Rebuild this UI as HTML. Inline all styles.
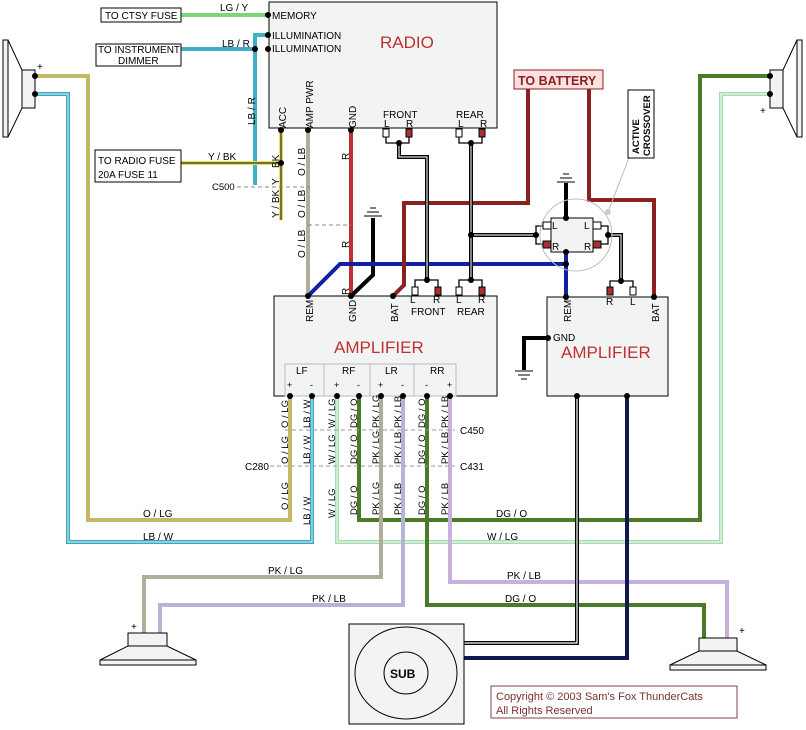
<!DOCTYPE html>
<html><head><meta charset="utf-8"><style>
html,body{margin:0;padding:0;background:#fff;}
svg{display:block;}
text{font-family:"Liberation Sans",sans-serif;}
</style></head><body>
<svg width="806" height="730" viewBox="0 0 806 730" xmlns="http://www.w3.org/2000/svg">
<g fill="none" stroke-linejoin="miter">
<!-- top speakers -->
<rect x="3" y="40" width="5" height="97" fill="#f2f4f4" stroke="#000"/>
<polygon points="8,40 22,70 22,108 8,137" fill="#fff" stroke="#000"/>
<rect x="22" y="70" width="13" height="38" fill="#f2f4f4" stroke="#000"/>
<rect x="797" y="40" width="5" height="97" fill="#f2f4f4" stroke="#000"/>
<polygon points="797,40 783,70 783,108 797,137" fill="#fff" stroke="#000"/>
<rect x="770" y="70" width="13" height="38" fill="#f2f4f4" stroke="#000"/>

<!-- long speaker wires -->
<polyline points="35,76 88,76 88,520 290,520 290,396" stroke="#c4b866" stroke-width="4"/>
<polyline points="35,94 68,94 68,542 312,542 312,396" stroke="#3aa8c0" stroke-width="4"/>
<polyline points="35,94 68,94 68,542 312,542 312,396" stroke="#bfe8f0" stroke-width="1.2"/>
<polyline points="337,396 337,542 721,542 721,94 770,94" stroke="#a8dcb0" stroke-width="4"/>
<polyline points="337,396 337,542 721,542 721,94 770,94" stroke="#e8f8ea" stroke-width="1.2"/>
<polyline points="359,396 359,520 700,520 700,76 770,76" stroke="#4a7a2a" stroke-width="4"/>
<polyline points="381,396 381,577 144,577 144,633" stroke="#b0ae9a" stroke-width="4"/>
<polyline points="403,396 403,605 160,605 160,633" stroke="#b4b4d4" stroke-width="4"/>
<polyline points="427,396 427,605 704,605 704,638" stroke="#4a7a2a" stroke-width="4"/>
<polyline points="450,396 450,582 727,582 727,638" stroke="#c8b0dc" stroke-width="4"/>
<polyline points="577,396 577,643 464,643" stroke="#000" stroke-width="4"/>
<polyline points="577,396 577,643 464,643" stroke="#fff" stroke-width="1.2"/>
<polyline points="627,396 627,658 464,658" stroke="#101850" stroke-width="4"/>

<!-- radio side wires -->
<line x1="181" y1="15" x2="268" y2="15" stroke="#78d878" stroke-width="4"/>
<polyline points="181,49 255,49" stroke="#40b0c8" stroke-width="4"/>
<polyline points="268,35 255,35 255,185" stroke="#40b0c8" stroke-width="4"/>
<line x1="181" y1="163" x2="281" y2="163" stroke="#e8e060" stroke-width="4"/>
<line x1="181" y1="163" x2="281" y2="163" stroke="#000" stroke-width="1"/>
<line x1="281" y1="130" x2="281" y2="220" stroke="#e8e060" stroke-width="4"/>
<line x1="281" y1="130" x2="281" y2="220" stroke="#000" stroke-width="1"/>
<line x1="308" y1="130" x2="308" y2="296" stroke="#b0ae9a" stroke-width="4"/>
<line x1="351" y1="130" x2="351" y2="296" stroke="#c03030" stroke-width="4"/>
<polyline points="373,218 373,275 351,296" stroke="#000" stroke-width="4"/>
<polyline points="308,296 340,264 566,264 566,297" stroke="#1020a0" stroke-width="4"/>
<line x1="566" y1="183" x2="566" y2="218" stroke="#000" stroke-width="4"/>
<line x1="566" y1="252" x2="566" y2="264" stroke="#1020a0" stroke-width="4"/>
<polyline points="393,296 404,285 404,203 528,203 528,89" stroke="#8a2020" stroke-width="4"/>
<polyline points="589,89 589,200 654,200 654,297" stroke="#8a2020" stroke-width="4"/>
<polyline points="237,187 310,187" stroke="#888" stroke-dasharray="4,3"/>
<polyline points="308,225 351,225" stroke="#888" stroke-dasharray="4,3"/>
<g stroke="#000" stroke-width="4"><polyline points="399,143 399,157 427,157 427,280"/><polyline points="471,143 471,280"/><polyline points="471,235 536,235"/><polyline points="608,235 621,235 621,281"/></g>
<g stroke="#ddd" stroke-width="1.2"><polyline points="399,143 399,157 427,157 427,280"/><polyline points="471,143 471,280"/><polyline points="471,235 536,235"/><polyline points="608,235 621,235 621,281"/></g>
<g stroke="#000" stroke-width="1.3">
<polyline points="386,137 386,143 409,143 409,137"/><polyline points="459,137 459,143 482,143 482,137"/>
<polyline points="415,287 415,280 438,280 438,287"/><polyline points="459,287 459,280 482,280 482,287"/>
<polyline points="610,287 610,281 633,281 633,287"/>
<polyline points="545,226 536,226 536,244 545,244"/><polyline points="600,226 608,226 608,244 600,244"/>
</g>
<g stroke="#000" stroke-width="1"><rect x="383" y="129" width="6" height="8" fill="#fff"/><rect x="406" y="129" width="6" height="8" fill="#a83030"/><rect x="456" y="129" width="6" height="8" fill="#fff"/><rect x="479" y="129" width="6" height="8" fill="#a83030"/>
<rect x="412" y="287" width="6" height="8" fill="#fff"/><rect x="435" y="287" width="6" height="8" fill="#a83030"/><rect x="456" y="287" width="6" height="8" fill="#fff"/><rect x="479" y="287" width="6" height="8" fill="#a83030"/>
<rect x="607" y="287" width="6" height="8" fill="#a83030"/><rect x="630" y="287" width="6" height="8" fill="#fff"/>
<rect x="543" y="222" width="8" height="7" fill="#fff"/><rect x="543" y="241" width="8" height="7" fill="#a83030"/><rect x="593" y="222" width="8" height="7" fill="#fff"/><rect x="593" y="241" width="8" height="7" fill="#a83030"/></g>

<g stroke="#000" stroke-width="1"><line x1="364" y1="216" x2="382" y2="216"/><line x1="367" y1="212" x2="379" y2="212"/><line x1="370" y1="208" x2="376" y2="208"/>
<line x1="557" y1="182" x2="575" y2="182"/><line x1="560" y1="178" x2="572" y2="178"/><line x1="563" y1="174" x2="569" y2="174"/>
<line x1="515" y1="371" x2="533" y2="371"/><line x1="518" y1="375" x2="530" y2="375"/><line x1="521" y1="379" x2="527" y2="379"/></g>
<polyline points="548,338 524,338 524,370" stroke="#000" stroke-width="4"/>

<rect x="269" y="2" width="228" height="126" fill="#f2f4f4" stroke="#000"/>
<rect x="274" y="296" width="223" height="100" fill="#f2f4f4" stroke="#000"/>
<rect x="285" y="364" width="171" height="32" fill="none" stroke="#bbb"/>
<g stroke="#bbb"><line x1="324" y1="364" x2="324" y2="396"/><line x1="370" y1="364" x2="370" y2="396"/><line x1="414" y1="364" x2="414" y2="396"/></g>
<rect x="547" y="297" width="121" height="99" fill="#f2f4f4" stroke="#000"/>
<rect x="551" y="218" width="42" height="34" fill="#f2f4f4" stroke="#000"/>
<circle cx="576" cy="235" r="36" stroke="#bbb"/>
<line x1="608" y1="212" x2="632" y2="150" stroke="#bbb"/>
<circle cx="608" cy="212" r="3" fill="#ccc" stroke="none"/>
<rect x="101" y="8" width="80" height="14" fill="#fff" stroke="#000"/>
<rect x="96" y="44" width="85" height="22" fill="#fff" stroke="#000"/>
<rect x="95" y="150" width="86" height="32" fill="#fff" stroke="#000"/>
<rect x="514" y="70" width="89" height="19" fill="#fde0e0" stroke="#8a2020"/>
<rect x="628" y="90" width="26" height="68" fill="#fff" stroke="#000"/>
<rect x="349" y="624" width="115" height="100" fill="#f2f4f4" stroke="#000"/>
<ellipse cx="406" cy="673" rx="51" ry="46" stroke="#000"/>
<ellipse cx="406" cy="673" rx="22" ry="21" stroke="#000"/>
<rect x="491" y="686" width="246" height="32" fill="#fff" stroke="#8a4040"/>
<rect x="128" y="633" width="39" height="13" fill="#f2f4f4" stroke="#000"/>
<polygon points="128,646 167,646 196,660 100,660" fill="#f2f4f4" stroke="#000"/>
<rect x="100" y="660" width="96" height="5" fill="#f2f4f4" stroke="#000"/>
<rect x="699" y="638" width="38" height="13" fill="#f2f4f4" stroke="#000"/>
<polygon points="699,651 737,651 766,665 670,665" fill="#f2f4f4" stroke="#000"/>
<rect x="670" y="665" width="96" height="5" fill="#f2f4f4" stroke="#000"/>

<line x1="285" y1="430" x2="455" y2="430" stroke="#999" stroke-dasharray="4,3"/>
<line x1="270" y1="466" x2="455" y2="466" stroke="#999" stroke-dasharray="4,3"/>
</g>
<g fill="#000">
<circle cx="268" cy="15" r="3"/><circle cx="268" cy="35" r="3"/><circle cx="268" cy="49" r="3"/><circle cx="255" cy="49" r="3"/>
<circle cx="281" cy="130" r="3"/><circle cx="308" cy="130" r="3"/><circle cx="351" cy="130" r="3"/><circle cx="281" cy="163" r="3"/>
<circle cx="399" cy="143" r="3"/><circle cx="471" cy="143" r="3"/><circle cx="427" cy="280" r="3"/><circle cx="471" cy="280" r="3"/><circle cx="471" cy="235" r="3"/>
<circle cx="536" cy="235" r="3"/><circle cx="608" cy="235" r="3"/><circle cx="566" cy="218" r="3"/><circle cx="566" cy="252" r="3"/><circle cx="566" cy="264" r="3"/><circle cx="621" cy="281" r="3"/>
<circle cx="308" cy="296" r="3"/><circle cx="351" cy="296" r="3"/><circle cx="393" cy="296" r="3"/><circle cx="566" cy="297" r="3"/><circle cx="654" cy="297" r="3"/><circle cx="548" cy="338" r="3"/>
<circle cx="290" cy="396" r="3"/><circle cx="312" cy="396" r="3"/><circle cx="337" cy="396" r="3"/><circle cx="359" cy="396" r="3"/><circle cx="381" cy="396" r="3"/><circle cx="403" cy="396" r="3"/><circle cx="427" cy="396" r="3"/><circle cx="450" cy="396" r="3"/>
<circle cx="577" cy="396" r="3"/><circle cx="627" cy="396" r="3"/>
<circle cx="35" cy="76" r="3"/><circle cx="35" cy="94" r="3"/><circle cx="770" cy="76" r="3"/><circle cx="770" cy="94" r="3"/>
</g>
<g font-size="10" fill="#000">
<text x="105" y="19">TO CTSY FUSE</text>
<text x="98" y="53">TO INSTRUMENT</text><text x="118" y="64">DIMMER</text>
<text x="98" y="164">TO RADIO FUSE</text><text x="98" y="178">20A FUSE 11</text>
<text x="220" y="11">LG / Y</text><text x="222" y="47">LB / R</text><text x="208" y="160">Y / BK</text>
<text x="212" y="190" font-size="9.5">C500</text>
<text x="272" y="19">MEMORY</text><text x="272" y="39">ILLUMINATION</text><text x="272" y="52">ILLUMINATION</text>
<text x="37" y="70">+</text><text x="760" y="114">+</text><text x="131" y="630">+</text><text x="739" y="634">+</text>
<text x="383" y="118">FRONT</text><text x="384" y="127">L</text><text x="406" y="127">R</text>
<text x="456" y="118">REAR</text><text x="458" y="127">L</text><text x="480" y="127">R</text>
<text x="552" y="229">L</text><text x="552" y="250">R</text><text x="584" y="229">L</text><text x="584" y="250">R</text>
<text x="410" y="303">L</text><text x="433" y="303">R</text><text x="456" y="303">L</text><text x="478" y="303">R</text>
<text x="411" y="315">FRONT</text><text x="457" y="315">REAR</text>
<text x="606" y="305">R</text><text x="630" y="305">L</text>
<text x="553" y="341">GND</text>
<text x="296" y="374">LF</text><text x="342" y="374">RF</text><text x="385" y="374">LR</text><text x="430" y="374">RR</text>
<g font-size="9"><text x="287" y="388">+</text><text x="310" y="388">-</text><text x="334" y="388">+</text><text x="357" y="388">-</text><text x="378" y="388">+</text><text x="401" y="388">-</text><text x="425" y="388">-</text><text x="447" y="388">+</text></g>
<text x="460" y="434">C450</text><text x="460" y="470">C431</text><text x="245" y="470">C280</text>
<text x="143" y="517">O / LG</text><text x="143" y="540">LB / W</text>
<text x="496" y="517">DG / O</text><text x="487" y="540">W / LG</text>
<text x="268" y="574">PK / LG</text><text x="312" y="602">PK / LB</text>
<text x="507" y="579">PK / LB</text><text x="505" y="602">DG / O</text>
</g>
<g font-size="10" fill="#000">
<text transform="translate(255,125) rotate(-90)">LB / R</text>
<text transform="translate(286,128) rotate(-90)">ACC</text>
<text transform="translate(313,128) rotate(-90)">AMP PWR</text>
<text transform="translate(356,128) rotate(-90)">GND</text>
<text transform="translate(349,160) rotate(-90)">R</text><text transform="translate(349,248) rotate(-90)">R</text><text transform="translate(349,295) rotate(-90)">R</text>
<text transform="translate(279,168) rotate(-90)">BK</text><text transform="translate(279,185) rotate(-90)">Y</text>
<text transform="translate(279,218) rotate(-90)">Y / BK</text>
<text transform="translate(305,176) rotate(-90)">O / LB</text><text transform="translate(305,218) rotate(-90)">O / LB</text><text transform="translate(305,258) rotate(-90)">O / LB</text>
<text transform="translate(313,322) rotate(-90)">REM</text><text transform="translate(356,322) rotate(-90)">GND</text><text transform="translate(398,322) rotate(-90)">BAT</text>
<text transform="translate(571,322) rotate(-90)">REM</text><text transform="translate(659,322) rotate(-90)">BAT</text>
<g font-size="9.5">
<text transform="translate(288,428) rotate(-90)">O / LG</text><text transform="translate(288,464) rotate(-90)">O / LG</text><text transform="translate(288,510) rotate(-90)">O / LG</text>
<text transform="translate(310,428) rotate(-90)">LB / W</text><text transform="translate(310,464) rotate(-90)">LB / W</text><text transform="translate(310,525) rotate(-90)">LB / W</text>
<text transform="translate(335,428) rotate(-90)">W / LG</text><text transform="translate(335,464) rotate(-90)">W / LG</text><text transform="translate(335,518) rotate(-90)">W / LG</text>
<text transform="translate(357,428) rotate(-90)">DG / O</text><text transform="translate(357,464) rotate(-90)">DG / O</text><text transform="translate(357,515) rotate(-90)">DG / O</text>
<text transform="translate(379,428) rotate(-90)">PK / LG</text><text transform="translate(379,464) rotate(-90)">PK / LG</text><text transform="translate(379,515) rotate(-90)">PK / LG</text>
<text transform="translate(401,428) rotate(-90)">PK / LB</text><text transform="translate(401,464) rotate(-90)">PK / LB</text><text transform="translate(401,515) rotate(-90)">PK / LB</text>
<text transform="translate(425,428) rotate(-90)">DG / O</text><text transform="translate(425,464) rotate(-90)">DG / O</text><text transform="translate(425,515) rotate(-90)">DG / O</text>
<text transform="translate(448,428) rotate(-90)">PK / LB</text><text transform="translate(448,464) rotate(-90)">PK / LB</text><text transform="translate(448,515) rotate(-90)">PK / LB</text>
</g>
<text transform="translate(639,154) rotate(-90)" font-weight="bold" font-size="9.5">ACTIVE</text>
<text transform="translate(650,156) rotate(-90)" font-weight="bold" font-size="9.5">CROSSOVER</text>
</g>
<text x="380" y="48" font-size="17" fill="#c03030">RADIO</text>
<text x="518" y="85" font-size="12.5" font-weight="bold" fill="#8a2020">TO BATTERY</text>
<text x="334" y="353" font-size="17" fill="#c03030">AMPLIFIER</text>
<text x="561" y="358" font-size="17" fill="#c03030">AMPLIFIER</text>
<text x="390" y="678" font-size="12" font-weight="bold" fill="#000">SUB</text>
<text x="496" y="700" font-size="11" fill="#7a3030">Copyright © 2003 Sam's Fox ThunderCats</text>
<text x="496" y="714" font-size="11" fill="#7a3030">All Rights Reserved</text>
</svg>
</body></html>
